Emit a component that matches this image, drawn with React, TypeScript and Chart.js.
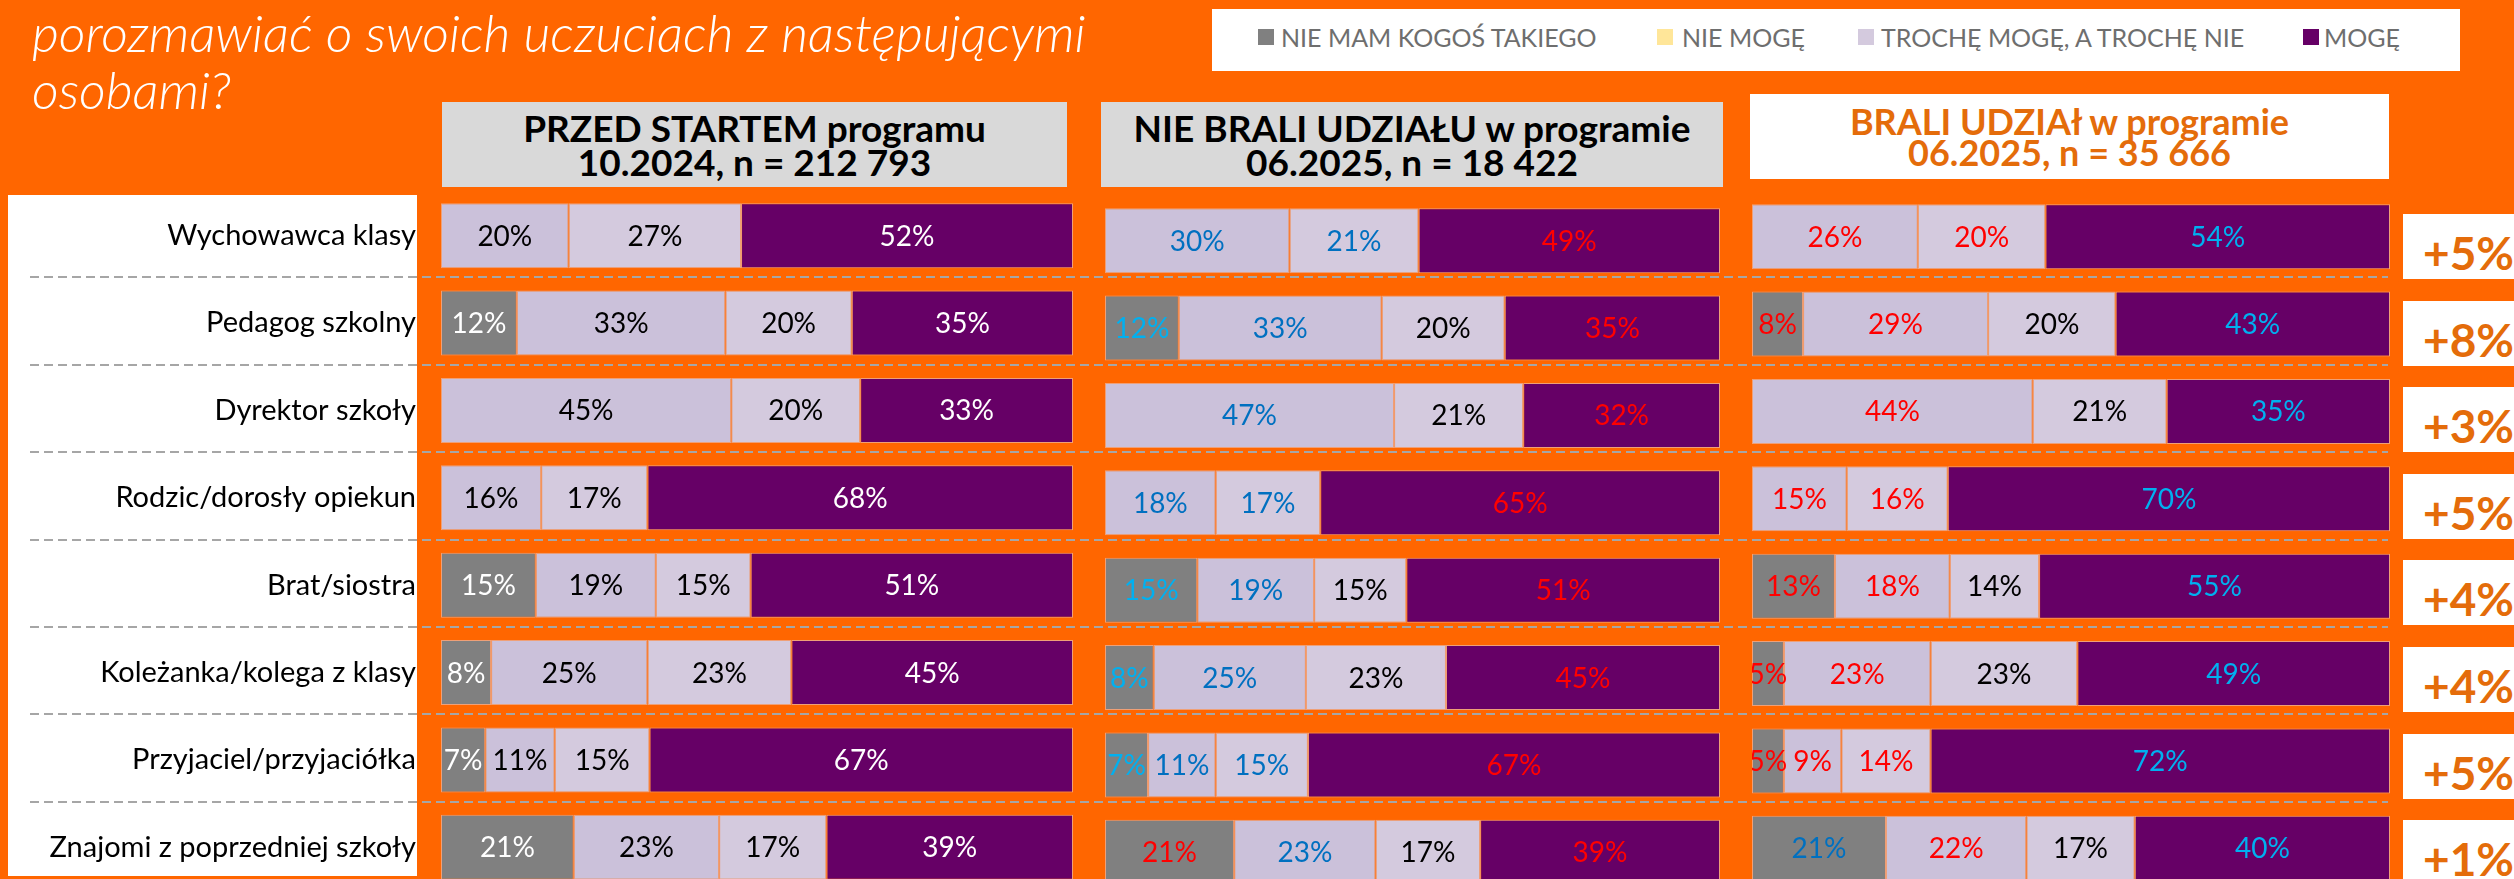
import React, { useEffect, useRef } from 'react';
import { Chart, registerables } from 'chart.js';

Chart.register(...registerables);

// ---------- DATA ----------
const categories = [
  'Wychowawca klasy',
  'Pedagog szkolny',
  'Dyrektor szkoły',
  'Rodzic/dorosły opiekun',
  'Brat/siostra',
  'Koleżanka/kolega z klasy',
  'Przyjaciel/przyjaciółka',
  'Znajomi z poprzedniej szkoły',
];

const seriesNames = ['NIE MAM KOGOŚ TAKIEGO', 'NIE MOGĘ', 'TROCHĘ MOGĘ, A TROCHĘ NIE', 'MOGĘ'];

// PRZED STARTEM programu (10.2024)
const beforeNoOne = [0, 12, 0, 0, 15, 8, 7, 21];
const beforeCannot = [20, 33, 45, 16, 19, 25, 11, 23];
const beforeSomewhat = [27, 20, 20, 17, 15, 23, 15, 17];
const beforeCan = [52, 35, 33, 68, 51, 45, 67, 39];

// NIE BRALI UDZIAŁU w programie (06.2025)
const nonPartNoOne = [0, 12, 0, 0, 15, 8, 7, 21];
const nonPartCannot = [30, 33, 47, 18, 19, 25, 11, 23];
const nonPartSomewhat = [21, 20, 21, 17, 15, 23, 15, 17];
const nonPartCan = [49, 35, 32, 65, 51, 45, 67, 39];

// BRALI UDZIAŁ w programie (06.2025)
const partNoOne = [0, 8, 0, 0, 13, 5, 5, 21];
const partCannot = [26, 29, 44, 15, 18, 23, 9, 22];
const partSomewhat = [20, 20, 21, 16, 14, 23, 14, 17];
const partCan = [54, 43, 35, 70, 55, 49, 72, 40];

const changeLabels = ['+5%', '+8%', '+3%', '+5%', '+4%', '+4%', '+5%', '+1%'];

const panelTitles = [
  ['PRZED STARTEM programu', '10.2024, n = 212 793'],
  ['NIE BRALI UDZIAŁU w programie', '06.2025, n = 18 422'],
  ['BRALI UDZIAł w programie', '06.2025, n = 35 666'],
];

const titleLines = ['porozmawiać o swoich uczuciach z następującymi', 'osobami?'];

// ---------- STYLES ----------
const ORANGE = '#FF6600';
const barColors = ['#808080', '#CBC1DA', '#D4CADE', '#660066'];
const legendColors = ['#808080', '#FFE699', '#D4CADE', '#660066'];
const W = '#FFFFFF', K = '#000000', B = '#0070C0', C = '#00B0F0', R = '#FF0000';
const beforeLabelColors = categories.map(() => [W, K, K, W]);
const nonPartLabelColors = [
  [W, B, B, R], [C, B, K, R], [W, B, K, R], [W, B, B, R],
  [C, B, K, R], [C, B, K, R], [C, B, B, R], [R, B, K, R],
];
const partLabelColors = [
  [W, R, R, C], [R, R, K, C], [W, R, K, C], [W, R, R, C],
  [R, R, K, C], [R, R, K, C], [R, R, R, C], [B, R, K, C],
];

const FONT = 'Lato, "Open Sans", sans-serif';
const ROW_PITCH = 87.4;
const CANVAS_H = Math.round(ROW_PITCH * 8);
const AXIS_W = 433;

type PanelProps = {
  series: number[][];
  labelColors: string[][];
  left: number;
  top: number;
  width: number;
  withAxis: boolean;
};

function Panel({ series, labelColors, left, top, width, withAxis }: PanelProps) {
  const ref = useRef<HTMLCanvasElement | null>(null);
  useEffect(() => {
    const canvas = ref.current;
    if (!canvas) return;
    const rowSums = categories.map((_, i) => series.reduce((s, arr) => s + arr[i], 0));
    const labelPlugin = {
      id: 'segLabels',
      beforeDraw(chart: any) {
        if (!withAxis) return;
        const ctx = chart.ctx;
        ctx.save();
        ctx.fillStyle = '#FFFFFF';
        ctx.fillRect(0, 195 - top, 409, 876 - 195);
        ctx.restore();
      },
      afterDatasetsDraw(chart: any) {
        const ctx = chart.ctx;
        ctx.save();
        ctx.font = `28px ${FONT}`;
        ctx.textAlign = 'center';
        ctx.textBaseline = 'middle';
        series.forEach((arr, d) => {
          const meta = chart.getDatasetMeta(d);
          meta.data.forEach((el: any, i: number) => {
            const v = arr[i];
            if (!v) return;
            const p = el.getCenterPoint();
            ctx.fillStyle = labelColors[i][d];
            ctx.fillText(`${v}%`, p.x, p.y + 1);
          });
        });
        ctx.restore();
      },
    };
    const yScale: any = withAxis
      ? {
          stacked: true,
          display: true,
          grid: { display: false, drawTicks: false },
          border: { display: false },
          ticks: { color: '#000000', font: { family: FONT, size: 29 }, padding: 25 },
          afterFit: (scale: any) => {
            scale.width = AXIS_W;
            scale.paddingTop = 0;
            scale.paddingBottom = 0;
          },
        }
      : { stacked: true, display: false };
    const chart = new Chart(canvas, {
      type: 'bar',
      data: {
        labels: categories,
        datasets: series.map((arr, d) => ({
          label: seriesNames[d],
          data: arr.map((v, i) => (v / rowSums[i]) * 100),
          backgroundColor: barColors[d],
          borderColor: 'rgba(236,170,140,0.85)',
          borderWidth: 1,
          borderSkipped: false,
          barPercentage: 1,
          categoryPercentage: 0.744,
        })),
      },
      options: {
        indexAxis: 'y',
        responsive: false,
        maintainAspectRatio: false,
        animation: false,
        layout: { padding: 0 },
        plugins: { legend: { display: false }, tooltip: { enabled: false } },
        scales: {
          x: { stacked: true, min: 0, max: 100, display: false },
          y: yScale,
        },
      },
      plugins: [labelPlugin],
    } as any);
    return () => chart.destroy();
  }, []);
  const totalW = width + (withAxis ? AXIS_W : 0);
  return (
    <canvas
      ref={ref}
      width={totalW}
      height={CANVAS_H}
      style={{ position: 'absolute', left: left - (withAxis ? AXIS_W : 0), top, width: totalW, height: CANVAS_H, zIndex: 2 }}
    />
  );
}

export default function App() {
  const headerBoxes = [
    { left: 442, top: 102, width: 625, height: 85, bg: '#D9D9D9', color: '#000000', size: 37, lh: 34 },
    { left: 1101, top: 102, width: 622, height: 85, bg: '#D9D9D9', color: '#000000', size: 37, lh: 34 },
    { left: 1750, top: 94, width: 639, height: 85, bg: '#FFFFFF', color: '#E46C0A', size: 36, lh: 31 },
  ];
  const legendPos = [
    { sq: 1258, tx: 1281 },
    { sq: 1657, tx: 1682 },
    { sq: 1858, tx: 1881 },
    { sq: 2303, tx: 2324 },
  ];
  const dashTops = [1, 2, 3, 4, 5, 6, 7].map((i) => 192 + i * ROW_PITCH - 3);
  return (
    <div
      style={{
        position: 'fixed', left: 0, top: 0, width: 2514, height: 879, overflow: 'hidden',
        background: ORANGE, fontFamily: FONT,
      }}
    >
      {/* Title */}
      {titleLines.map((t, i) => (
        <div
          key={t}
          style={{
            position: 'absolute', left: 32, top: 1 + i * 57, fontSize: 52, lineHeight: '62px',
            fontStyle: 'italic', fontWeight: 300, color: '#FFFFFF', whiteSpace: 'nowrap',
          }}
        >
          {t}
        </div>
      ))}

      {/* Legend */}
      <div style={{ position: 'absolute', left: 1212, top: 9, width: 1248, height: 62, background: '#FFFFFF' }} />
      {seriesNames.map((n, i) => (
        <React.Fragment key={n}>
          <div style={{ position: 'absolute', left: legendPos[i].sq, top: 29, width: 16, height: 16, background: legendColors[i] }} />
          <div
            style={{
              position: 'absolute', left: legendPos[i].tx, top: 21, height: 32, lineHeight: '32px',
              fontSize: 25, color: '#6E6E6E', whiteSpace: 'nowrap',
            }}
          >
            {n}
          </div>
        </React.Fragment>
      ))}

      {/* Panel headers */}
      {headerBoxes.map((h, i) => (
        <div
          key={i}
          style={{
            position: 'absolute', left: h.left, top: h.top, width: h.width, height: h.height, background: h.bg,
            color: h.color, fontWeight: 700, fontSize: h.size, lineHeight: `${h.lh}px`, textAlign: 'center',
            display: 'flex', flexDirection: 'column', justifyContent: 'center', whiteSpace: 'nowrap',
          }}
        >
          <div>{panelTitles[i][0]}</div>
          <div>{panelTitles[i][1]}</div>
        </div>
      ))}

      {/* Charts */}
      <Panel
        series={[beforeNoOne, beforeCannot, beforeSomewhat, beforeCan]}
        labelColors={beforeLabelColors}
        left={441}
        top={192}
        width={632}
        withAxis={true}
      />
      <Panel
        series={[nonPartNoOne, nonPartCannot, nonPartSomewhat, nonPartCan]}
        labelColors={nonPartLabelColors}
        left={1105}
        top={197}
        width={615}
        withAxis={false}
      />
      <Panel
        series={[partNoOne, partCannot, partSomewhat, partCan]}
        labelColors={partLabelColors}
        left={1752}
        top={193}
        width={638}
        withAxis={false}
      />

      {/* Dashed separators */}
      {dashTops.map((y, i) => (
        <div
          key={i}
          style={{
            position: 'absolute', left: 30, top: y, width: 2358, height: 2, zIndex: 3,
            background: 'repeating-linear-gradient(to right, #A6A6A6 0px, #A6A6A6 9px, transparent 9px, transparent 14px)',
          }}
        />
      ))}

      {/* Change boxes */}
      {changeLabels.map((c, i) => (
        <div
          key={i}
          style={{
            position: 'absolute', left: 2403, top: 214 + i * 86.6, width: 111, height: 65, background: '#FFFFFF',
          }}
        >
          <div
            style={{
              position: 'absolute', left: 20, top: 14, fontSize: 46, lineHeight: '50px', fontWeight: 700,
              color: '#E46C0A', whiteSpace: 'nowrap',
            }}
          >
            {c}
          </div>
        </div>
      ))}
    </div>
  );
}
